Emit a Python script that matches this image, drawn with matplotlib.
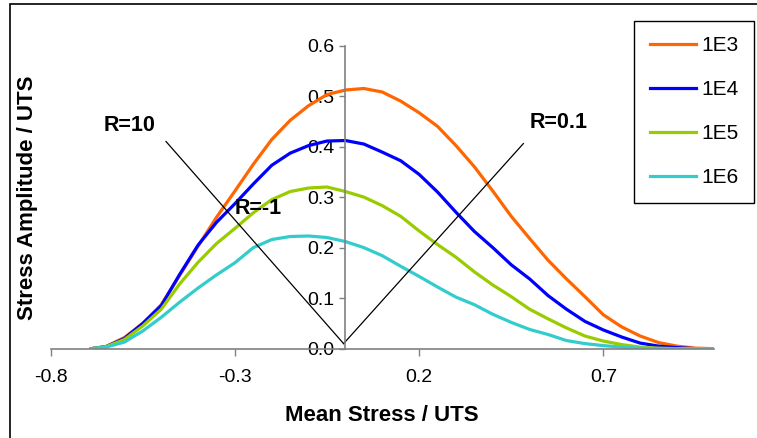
import matplotlib
matplotlib.use("Agg")
import matplotlib.pyplot as plt
from matplotlib.patches import Rectangle

plt.rcParams["font.family"] = ["Liberation Sans", "DejaVu Sans"]

# mean stress / UTS (shared sample points for all curves)
mean_stress = [-0.69, -0.65, -0.6, -0.55, -0.5, -0.45, -0.4, -0.35, -0.3, -0.25,
               -0.2, -0.15, -0.1, -0.05, 0.0, 0.05, 0.1, 0.15, 0.2, 0.25,
               0.3, 0.35, 0.4, 0.45, 0.5, 0.55, 0.6, 0.65, 0.7, 0.75,
               0.8, 0.85, 0.9, 0.95, 1.0]

# stress amplitude / UTS for each life
amp_1e3 = [0.0, 0.004, 0.022, 0.05, 0.087, 0.145, 0.203, 0.26, 0.312, 0.365,
           0.414, 0.452, 0.481, 0.503, 0.512, 0.515, 0.508, 0.49, 0.467, 0.44,
           0.402, 0.36, 0.312, 0.262, 0.218, 0.175, 0.138, 0.103, 0.067, 0.043,
           0.025, 0.012, 0.005, 0.001, 0.0]
amp_1e4 = [0.0, 0.004, 0.02, 0.05, 0.085, 0.147, 0.205, 0.25, 0.287, 0.326,
           0.363, 0.387, 0.402, 0.411, 0.412, 0.405, 0.389, 0.372, 0.345, 0.31,
           0.27, 0.232, 0.2, 0.166, 0.138, 0.105, 0.078, 0.054, 0.037, 0.023,
           0.011, 0.005, 0.002, 0.0, 0.0]
amp_1e5 = [0.0, 0.004, 0.018, 0.045, 0.078, 0.128, 0.171, 0.208, 0.238, 0.269,
           0.295, 0.311, 0.318, 0.32, 0.311, 0.3, 0.283, 0.262, 0.233, 0.206,
           0.181, 0.152, 0.126, 0.103, 0.078, 0.059, 0.041, 0.025, 0.015, 0.008,
           0.003, 0.001, 0.0, 0.0, 0.0]
amp_1e6 = [0.0, 0.003, 0.013, 0.035, 0.062, 0.092, 0.12, 0.146, 0.17, 0.2,
           0.216, 0.222, 0.223, 0.22, 0.212, 0.2, 0.184, 0.163, 0.143, 0.122,
           0.102, 0.087, 0.068, 0.052, 0.038, 0.028, 0.016, 0.01, 0.006, 0.003,
           0.001, 0.0, 0.0, 0.0, 0.0]

series_labels = ["1E3", "1E4", "1E5", "1E6"]
series_colors = ["#FF6600", "#0000FF", "#99CC00", "#33CCCC"]

# constant R-ratio guide lines, drawn from the origin
r_lines = {"R=10": (-0.487, 0.41), "R=0.1": (0.483, 0.406)}
r_text = {"R=10": (-0.587, 0.441), "R=0.1": (0.579, 0.447), "R=-1": (-0.238, 0.278)}

x_ticks = [-0.8, -0.3, 0.2, 0.7]
y_ticks = [0.0, 0.1, 0.2, 0.3, 0.4, 0.5, 0.6]


def main():
    fig = plt.figure(figsize=(7.57, 4.38), dpi=100)
    ax = fig.add_axes([0.067, 0.204, 0.876, 0.692])

    for ys, lab, col in zip([amp_1e3, amp_1e4, amp_1e5, amp_1e6], series_labels, series_colors):
        ax.plot(mean_stress, ys, color=col, lw=2.3, label=lab, solid_joinstyle="round")

    vx, vy = -0.005, 0.01
    for name, (ex, ey) in r_lines.items():
        ax.plot([ex, vx], [ey, vy], color="black", lw=0.9)
    for name, (tx, ty) in r_text.items():
        ax.text(tx, ty, name, ha="center", va="center", fontsize=15.5, fontweight="bold")

    ax.set_xlim(-0.8, 1.0)
    ax.set_ylim(0.0, 0.6)
    ax.set_xticks(x_ticks)
    ax.set_yticks(y_ticks)
    ax.set_xticklabels([f"{t:.1f}" for t in x_ticks])
    ax.set_yticklabels([f"{t:.1f}" for t in y_ticks])

    for s in ["top", "right"]:
        ax.spines[s].set_visible(False)
    ax.spines["left"].set_position(("data", 0))
    ax.spines["bottom"].set_position(("data", 0))
    for s in ["left", "bottom"]:
        ax.spines[s].set_color("#808080")
        ax.spines[s].set_linewidth(1.2)
    ax.tick_params(axis="both", colors="#808080", labelcolor="black", labelsize=14, width=1)
    ax.tick_params(axis="y", direction="out", length=4, pad=4)
    ax.tick_params(axis="x", direction="out", length=5, pad=10)

    ax.set_xlabel("Mean Stress / UTS", fontsize=16, fontweight="bold", labelpad=0)
    ax.xaxis.set_label_coords(0.5, -0.185)
    ax.set_ylabel("Stress Amplitude / UTS", fontsize=16, fontweight="bold")
    ax.yaxis.set_label_coords(-0.019, 0.497)

    leg = ax.legend(loc="upper right", bbox_to_anchor=(754 / 757, 1 - 20.7 / 438),
                    bbox_transform=fig.transFigure, borderaxespad=0, fancybox=False,
                    edgecolor="black", framealpha=1, fontsize=15, handlelength=2.2,
                    handletextpad=0.25, labelspacing=1.2, borderpad=0.75)
    leg.get_frame().set_linewidth(1.0)

    # outer chart border
    fig.patches.append(Rectangle((9.7 / 757, -0.1), 1.2, 1 - 4 / 438 + 0.1,
                                 transform=fig.transFigure, fill=False,
                                 edgecolor="black", lw=1.2))

    fig.savefig("out.png", dpi=100)


if __name__ == "__main__":
    main()
